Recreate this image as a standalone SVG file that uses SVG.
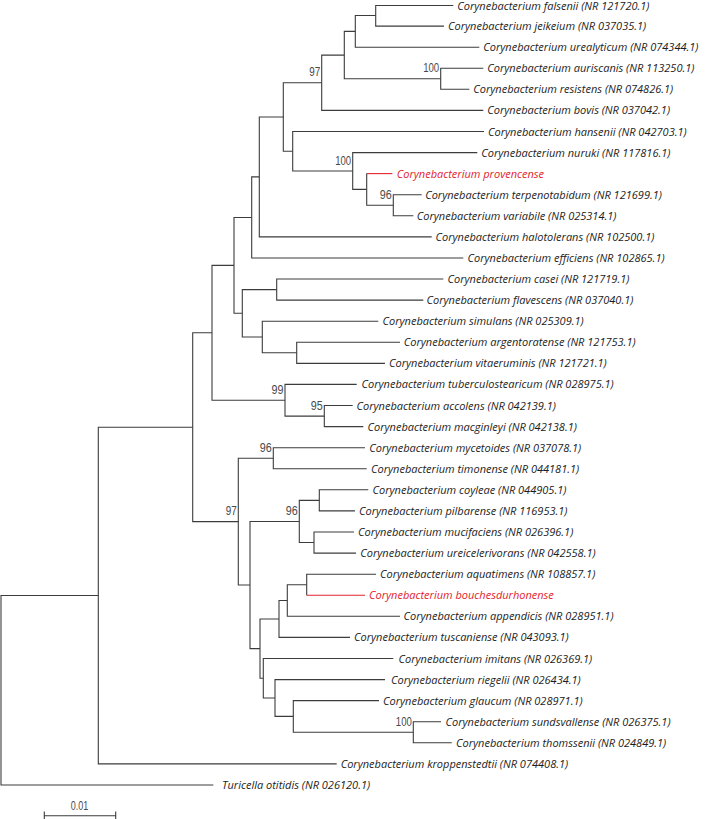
<svg xmlns="http://www.w3.org/2000/svg" width="713" height="819" viewBox="0 0 713 819">
<style>
.br{fill:none;stroke:#3c3c3c;stroke-width:1.1}
.red{fill:none;stroke:#e3222c;stroke-width:1.1}
.lf{font-family:"Open Sans","Noto Sans",sans-serif;font-size:11px;font-style:italic;fill:#1c1c1c}
.lr{fill:#e3222c}
.bs{font-family:"Liberation Sans",Arial,sans-serif;font-size:13px;fill:#4a4a4a;text-anchor:end}
</style>
<rect width="713" height="819" fill="#ffffff"/>
<g id="connectors">
<path class="br" d="M98.3,595.5 H1 V785 H213.3"/>
<path class="br" d="M192.7,427.2 H98.3 V763.9 H336.7"/>
<path class="br" d="M212,332.8 H192.7 V521.6 H238.3"/>
<path class="br" d="M234,265.4 H212 V400.3 H285"/>
<path class="br" d="M251.7,217.5 H234 V313.3 H242.3"/>
<path class="br" d="M259.3,176.9 H251.7 V258 H463.3"/>
<path class="br" d="M283.3,117 H259.3 V236.9 H431.7"/>
<path class="br" d="M321.7,82.7 H283.3 V151.2 H292.7"/>
<path class="br" d="M344.3,55.1 H321.7 V110.4 H483.3"/>
<path class="br" d="M355.3,31.4 H344.3 V78.8 H440.7"/>
<path class="br" d="M375.7,15.5 H355.3 V47.2 H479.3"/>
<path class="br" d="M453.3,5.5 H375.7 V26.1 H444"/>
<path class="br" d="M483.3,68.2 H440.7 V89.3 H469.3"/>
<path class="br" d="M484,131.5 H292.7 V171 H352.7"/>
<path class="br" d="M477.3,152.6 H352.7 V189.4 H366.7"/>
<path class="red" d="M392.3,173.6 H366.7"/>
<path class="br" d="M366.7,173.6 V205.3 H393.3"/>
<path class="br" d="M421.7,194.7 H393.3 V215.8 H413.3"/>
<path class="br" d="M276.7,289.6 H242.3 V337 H262.3"/>
<path class="br" d="M443.3,279 H276.7 V300.1 H423.3"/>
<path class="br" d="M378.3,321.2 H262.3 V352.8 H296.7"/>
<path class="br" d="M400,342.3 H296.7 V363.4 H385"/>
<path class="br" d="M356.7,384.4 H285 V416.1 H324.3"/>
<path class="br" d="M352.7,405.5 H324.3 V426.6 H363.3"/>
<path class="br" d="M273.3,458.2 H238.3 V585 H250"/>
<path class="br" d="M365,447.7 H273.3 V468.8 H366.7"/>
<path class="br" d="M299.3,521.5 H250 V648.6 H260"/>
<path class="br" d="M319.3,500.4 H299.3 V542.5 H314"/>
<path class="br" d="M368.3,489.8 H319.3 V510.9 H355"/>
<path class="br" d="M354,532 H314 V553.1 H356"/>
<path class="br" d="M279,619 H260 V678.2 H263.3"/>
<path class="br" d="M287.3,600.5 H279 V637.4 H350"/>
<path class="br" d="M306.7,584.7 H287.3 V616.3 H400"/>
<path class="br" d="M376,574.2 H306.7 V595.2"/>
<path class="red" d="M306.7,595.2 H365"/>
<path class="br" d="M393.3,658.5 H263.3 V698 H275"/>
<path class="br" d="M385,679.6 H275 V716.4 H293.3"/>
<path class="br" d="M379,700.6 H293.3 V732.3 H413.3"/>
<path class="br" d="M441,721.7 H413.3 V742.8 H451.7"/>
</g>
<g id="leaf-falsenii"><text class="lf" x="457.3" y="9.8">Corynebacterium falsenii (NR 121720.1)</text></g>
<g id="leaf-jeikeium"><text class="lf" x="448" y="30.1">Corynebacterium jeikeium (NR 037035.1)</text></g>
<g id="leaf-urealyticum"><text class="lf" x="483.3" y="51.2">Corynebacterium urealyticum (NR 074344.1)</text></g>
<g id="leaf-auriscanis"><text class="lf" x="487.3" y="72.2">Corynebacterium auriscanis (NR 113250.1)</text></g>
<g id="leaf-resistens"><text class="lf" x="473.3" y="93.3">Corynebacterium resistens (NR 074826.1)</text></g>
<g id="leaf-bovis"><text class="lf" x="487.3" y="114.4">Corynebacterium bovis (NR 037042.1)</text></g>
<g id="leaf-hansenii"><text class="lf" x="488" y="135.5">Corynebacterium hansenii (NR 042703.1)</text></g>
<g id="leaf-nuruki"><text class="lf" x="481.3" y="156.6">Corynebacterium nuruki (NR 117816.1)</text></g>
<g id="leaf-provencense"><text class="lf lr" x="396.8" y="177.6">Corynebacterium provencense</text></g>
<g id="leaf-terpenotabidum"><text class="lf" x="425.2" y="198.7">Corynebacterium terpenotabidum (NR 121699.1)</text></g>
<g id="leaf-variabile"><text class="lf" x="416.8" y="219.8">Corynebacterium variabile (NR 025314.1)</text></g>
<g id="leaf-halotolerans"><text class="lf" x="435.5" y="240.9">Corynebacterium halotolerans (NR 102500.1)</text></g>
<g id="leaf-efficiens"><text class="lf" x="467.5" y="262">Corynebacterium efficiens (NR 102865.1)</text></g>
<g id="leaf-casei"><text class="lf" x="447.5" y="283">Corynebacterium casei (NR 121719.1)</text></g>
<g id="leaf-flavescens"><text class="lf" x="426.5" y="304.1">Corynebacterium flavescens (NR 037040.1)</text></g>
<g id="leaf-simulans"><text class="lf" x="382.5" y="325.2">Corynebacterium simulans (NR 025309.1)</text></g>
<g id="leaf-argentoratense"><text class="lf" x="403.8" y="346.3">Corynebacterium argentoratense (NR 121753.1)</text></g>
<g id="leaf-vitaeruminis"><text class="lf" x="389" y="367.4">Corynebacterium vitaeruminis (NR 121721.1)</text></g>
<g id="leaf-tuberculostearicum"><text class="lf" x="361.5" y="388.4">Corynebacterium tuberculostearicum (NR 028975.1)</text></g>
<g id="leaf-accolens"><text class="lf" x="356.5" y="409.5">Corynebacterium accolens (NR 042139.1)</text></g>
<g id="leaf-macginleyi"><text class="lf" x="367.5" y="430.6">Corynebacterium macginleyi (NR 042138.1)</text></g>
<g id="leaf-mycetoides"><text class="lf" x="369.3" y="451.7">Corynebacterium mycetoides (NR 037078.1)</text></g>
<g id="leaf-timonense"><text class="lf" x="371" y="472.8">Corynebacterium timonense (NR 044181.1)</text></g>
<g id="leaf-coyleae"><text class="lf" x="372.5" y="493.8">Corynebacterium coyleae (NR 044905.1)</text></g>
<g id="leaf-pilbarense"><text class="lf" x="359" y="514.9">Corynebacterium pilbarense (NR 116953.1)</text></g>
<g id="leaf-mucifaciens"><text class="lf" x="358" y="536">Corynebacterium mucifaciens (NR 026396.1)</text></g>
<g id="leaf-ureicelerivorans"><text class="lf" x="360.3" y="557.1">Corynebacterium ureicelerivorans (NR 042558.1)</text></g>
<g id="leaf-aquatimens"><text class="lf" x="380" y="578.2">Corynebacterium aquatimens (NR 108857.1)</text></g>
<g id="leaf-bouchesdurhonense"><text class="lf lr" x="369" y="599.2">Corynebacterium bouchesdurhonense</text></g>
<g id="leaf-appendicis"><text class="lf" x="403.5" y="620.3">Corynebacterium appendicis (NR 028951.1)</text></g>
<g id="leaf-tuscaniense"><text class="lf" x="354" y="641.4">Corynebacterium tuscaniense (NR 043093.1)</text></g>
<g id="leaf-imitans"><text class="lf" x="398.5" y="662.5">Corynebacterium imitans (NR 026369.1)</text></g>
<g id="leaf-riegelii"><text class="lf" x="391" y="683.6">Corynebacterium riegelii (NR 026434.1)</text></g>
<g id="leaf-glaucum"><text class="lf" x="383" y="704.6">Corynebacterium glaucum (NR 028971.1)</text></g>
<g id="leaf-sundsvallense"><text class="lf" x="445.5" y="725.7">Corynebacterium sundsvallense (NR 026375.1)</text></g>
<g id="leaf-thomssenii"><text class="lf" x="456" y="746.8">Corynebacterium thomssenii (NR 024849.1)</text></g>
<g id="leaf-kroppenstedtii"><text class="lf" x="340.7" y="767.9">Corynebacterium kroppenstedtii (NR 074408.1)</text></g>
<g id="leaf-turicella"><text class="lf" x="222" y="789">Turicella otitidis (NR 026120.1)</text></g>
<g id="node-K"><text class="bs" x="320.2" y="76.2" textLength="11" lengthAdjust="spacingAndGlyphs">97</text></g>
<g id="node-O"><text class="bs" x="439.2" y="72.3" textLength="16" lengthAdjust="spacingAndGlyphs">100</text></g>
<g id="node-Q"><text class="bs" x="351.2" y="164.5" textLength="16" lengthAdjust="spacingAndGlyphs">100</text></g>
<g id="node-T"><text class="bs" x="391.8" y="198.8" textLength="12" lengthAdjust="spacingAndGlyphs">96</text></g>
<g id="node-F"><text class="bs" x="283.5" y="393.8" textLength="12" lengthAdjust="spacingAndGlyphs">99</text></g>
<g id="node-X"><text class="bs" x="322.8" y="409.6" textLength="12" lengthAdjust="spacingAndGlyphs">95</text></g>
<g id="node-Y"><text class="bs" x="271.8" y="451.7" textLength="12" lengthAdjust="spacingAndGlyphs">96</text></g>
<g id="node-D"><text class="bs" x="236.8" y="515.1" textLength="11" lengthAdjust="spacingAndGlyphs">97</text></g>
<g id="node-AA"><text class="bs" x="297.8" y="515" textLength="12" lengthAdjust="spacingAndGlyphs">96</text></g>
<g id="node-AK"><text class="bs" x="411.8" y="725.8" textLength="16" lengthAdjust="spacingAndGlyphs">100</text></g>
<g id="scale-bar">
<path class="br" d="M44.3,811.5 V819 M44.3,815.7 H115.7 M115.7,811.5 V819"/>
<text class="bs" x="88.3" y="809.5" textLength="17.5" lengthAdjust="spacingAndGlyphs">0.01</text>
</g>
</svg>
